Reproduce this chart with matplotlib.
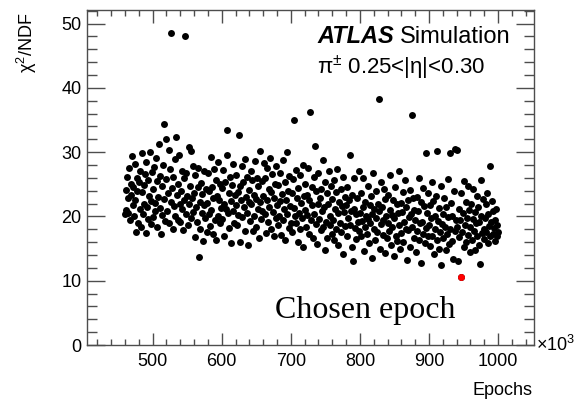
import numpy as np
import matplotlib
matplotlib.use("Agg")
import matplotlib.pyplot as plt
from matplotlib.ticker import MultipleLocator

# epochs in units of 10^3, one point per thousand epochs
epoch_start = 460
epoch_stop = 1000

# chi2/NDF per epoch (rows of 20 epochs)
chi2_ndf = [
    20.3, 24.1, 21.0, 26.2, 20.5, 22.8, 27.5, 19.4, 25.0, 23.3, 29.4, 21.8, 24.6, 20.0, 28.2, 22.5, 17.6, 26.0, 23.9, 19.0,
    25.3, 21.2, 27.0, 18.3, 23.8, 29.8, 20.4, 24.9, 22.0, 26.6, 17.4, 28.4, 21.5, 25.7, 19.6, 23.1, 30.0, 22.4, 18.8, 26.9,
    24.2, 19.9, 27.7, 22.1, 20.8, 29.1, 18.4, 25.5, 23.0, 31.2, 21.3, 26.3, 17.3, 24.7, 20.2, 28.0, 22.7, 34.3, 19.3, 32.1,
    25.8, 20.9, 23.6, 30.4, 19.0, 27.3, 22.2, 48.5, 24.4, 18.1, 26.1, 21.6, 28.9, 20.1, 32.4, 23.4, 19.5, 25.1, 29.6, 22.0,
    19.2, 24.0, 27.1, 21.1, 17.9, 25.9, 22.6, 48.0, 20.4, 26.8, 23.2, 18.7, 30.8, 21.9, 24.8, 19.8, 30.1, 22.9, 27.9, 20.7,
    23.7, 16.8, 26.4, 21.4, 19.1, 24.5, 27.6, 13.7, 22.3, 18.0, 25.2, 20.6, 23.5, 16.2, 27.0, 21.7, 19.7, 24.3, 17.5, 22.1,
    26.7, 20.3, 23.9, 18.5, 29.2, 21.0, 24.6, 17.2, 22.8, 27.4, 19.4, 25.6, 16.4, 23.1, 20.0, 28.5, 22.5, 18.9, 25.0, 21.3,
    24.4, 19.6, 27.2, 22.0, 17.0, 25.4, 21.1, 29.6, 33.5, 20.5, 23.6, 18.2, 26.1, 22.4, 15.8, 24.9, 20.8, 28.1, 19.0, 23.3,
    21.7, 26.5, 18.6, 23.8, 20.2, 32.7, 24.7, 16.0, 22.6, 27.8, 19.9, 25.3, 21.4, 17.7, 29.0, 23.0, 20.6, 26.2, 15.5, 22.2,
    24.1, 19.3, 27.0, 21.9, 25.7, 17.8, 23.4, 20.1, 28.6, 22.7, 18.4, 26.0, 21.2, 24.8, 16.6, 30.2, 22.3, 19.6, 25.5, 20.9,
    23.2, 28.3, 20.4, 25.9, 17.4, 22.5, 27.5, 19.2, 24.3, 21.5, 29.1, 18.0, 23.8, 26.6, 20.7, 22.9, 16.9, 25.1, 19.7, 27.9,
    21.8, 18.6, 24.9, 20.0, 26.8, 22.4, 17.1, 23.5, 19.4, 28.7, 21.1, 25.3, 16.3, 22.6, 30.0, 20.3, 24.0, 18.2, 26.3, 21.6,
    19.0, 23.7, 17.6, 25.8, 21.3, 35.0, 20.1, 27.2, 18.9, 22.8, 16.0, 24.4, 20.6, 26.4, 18.1, 22.1, 19.8, 28.0, 15.2, 23.1,
    21.0, 25.0, 18.4, 23.3, 20.2, 27.6, 17.3, 22.5, 36.3, 19.5, 24.6, 21.7, 16.6, 26.2, 20.4, 30.9, 18.8, 23.9, 15.7, 22.0,
    26.8, 19.6, 22.9, 17.9, 24.2, 20.8, 28.8, 18.3, 21.4, 14.8, 25.4, 19.1, 23.6, 16.7, 21.9, 27.0, 18.6, 20.0, 24.8, 17.2,
    22.7, 19.4, 25.7, 16.4, 21.2, 23.8, 18.0, 27.4, 20.5, 15.6, 22.2, 19.0, 24.3, 17.5, 21.6, 26.1, 14.2, 20.7, 23.0, 18.5,
    21.8, 17.0, 24.5, 19.8, 22.6, 29.5, 18.7, 20.9, 15.3, 23.4, 13.1, 21.1, 25.9, 18.2, 20.3, 16.5, 22.9, 19.2, 27.1, 17.8,
    20.6, 23.6, 16.9, 19.3, 26.0, 21.4, 14.6, 18.4, 22.3, 20.0, 17.3, 24.7, 19.6, 15.9, 21.7, 18.9, 23.1, 13.6, 20.4, 26.7,
    18.1, 21.2, 16.4, 23.9, 19.7, 17.6, 22.0, 38.3, 20.8, 15.0, 18.8, 25.3, 21.5, 17.1, 19.4, 24.2, 14.3, 22.7, 20.1, 16.7,
    19.0, 23.3, 17.8, 21.0, 26.4, 15.6, 20.2, 18.3, 22.5, 13.8, 19.8, 24.6, 17.0, 21.9, 16.2, 20.5, 27.0, 18.6, 14.9, 22.1,
    17.4, 20.7, 23.8, 16.0, 19.2, 25.6, 18.1, 21.4, 13.2, 22.6, 17.9, 19.9, 24.1, 15.2, 20.3, 35.7, 18.4, 22.9, 16.6, 21.0,
    19.5, 14.5, 23.0, 17.7, 20.9, 26.0, 16.3, 18.9, 22.2, 12.8, 19.1, 24.4, 17.2, 21.6, 15.8, 29.8, 18.2, 20.6, 23.6, 16.9,
    18.6, 21.8, 15.4, 19.7, 25.3, 17.0, 22.4, 14.1, 20.1, 18.0, 23.2, 16.4, 30.2, 19.3, 21.3, 15.0, 17.6, 12.5, 24.8, 18.8,
    20.4, 16.6, 22.9, 18.4, 14.7, 21.5, 17.3, 19.9, 25.8, 15.7, 29.8, 18.1, 22.1, 16.2, 20.0, 13.4, 24.0, 30.5, 17.7, 19.5,
    30.3, 18.3, 13.0, 21.2, 16.8, 19.4, 10.5, 23.6, 17.5, 20.6, 25.5, 15.3, 18.7, 22.3, 16.0, 19.8, 24.7, 17.1, 21.0, 14.4,
    18.4, 22.0, 16.3, 19.6, 24.2, 17.8, 20.7, 14.8, 18.9, 23.1, 16.9, 21.4, 19.2, 15.5, 12.6, 20.0, 25.6, 17.4, 22.7, 18.1,
    16.5, 19.8, 21.9, 17.6, 23.7, 15.9, 20.3, 18.5, 27.8, 16.9, 19.1, 22.4, 17.3, 20.8, 18.2, 16.1, 19.4, 21.2, 17.0, 18.7,
    17.5,
]
epochs = np.arange(epoch_start, epoch_stop + 1)

chosen_epoch = 946
chosen_chi2 = 10.5

plt.rcParams['font.family'] = ['Liberation Sans', 'DejaVu Sans']
plt.rcParams['mathtext.fontset'] = 'custom'
plt.rcParams['mathtext.rm'] = 'Liberation Sans'
plt.rcParams['mathtext.it'] = 'Liberation Sans'

fig = plt.figure(figsize=(5.8, 4.0), dpi=100)
ax = fig.add_axes([0.15, 0.1375, 0.7707, 0.8375])

ax.plot(epochs, chi2_ndf, 'o', color='black', ms=5.0, mew=0)
ax.plot([chosen_epoch], [chosen_chi2], 'o', color='red', ms=5.0, mew=0)

ax.set_xlim(405, 1052)
ax.set_ylim(0, 52.1)

frame_col = '0.3'
for s in ax.spines.values():
    s.set_color(frame_col)
    s.set_linewidth(1.0)

ax.xaxis.set_major_locator(MultipleLocator(100))
ax.xaxis.set_minor_locator(MultipleLocator(20))
ax.yaxis.set_major_locator(MultipleLocator(10))
ax.yaxis.set_minor_locator(MultipleLocator(2))
ax.tick_params(axis='x', which='major', direction='in', length=9, width=1, color=frame_col,
               top=True, labelsize=13, pad=6)
ax.tick_params(axis='x', which='minor', direction='in', length=4.5, width=1, color=frame_col, top=True)
ax.tick_params(axis='y', which='major', direction='in', length=13, width=1, color=frame_col,
               right=True, labelsize=13, pad=4)
ax.tick_params(axis='y', which='minor', direction='in', length=7, width=1, color=frame_col, right=True)

# axis titles, placed like ROOT does
fig.text(0.918, 0.003, 'Epochs', ha='right', va='bottom', fontsize=13)
fig.text(0.025, 0.968, 'χ$^2$/NDF', ha='left', va='top', rotation=90, fontsize=13)
fig.text(0.925, 0.137, '×10$^{3}$', ha='left', va='center', fontsize=13)

# labels inside the frame
ax.text(0.5145, 0.9, 'ATLAS', transform=ax.transAxes, fontsize=17,
        fontweight='bold', fontstyle='italic', ha='left', va='baseline')
ax.text(0.70, 0.9, 'Simulation', transform=ax.transAxes, fontsize=17,
        ha='left', va='baseline')
ax.text(0.5145, 0.81, 'π$^{\\pm}$ 0.25<|η|<0.30', transform=ax.transAxes,
        fontsize=16, ha='left', va='baseline')
ax.text(0.42, 0.08, 'Chosen epoch', transform=ax.transAxes, fontsize=23,
        family='Liberation Serif', ha='left', va='baseline')

fig.savefig('out.png', dpi=100)
